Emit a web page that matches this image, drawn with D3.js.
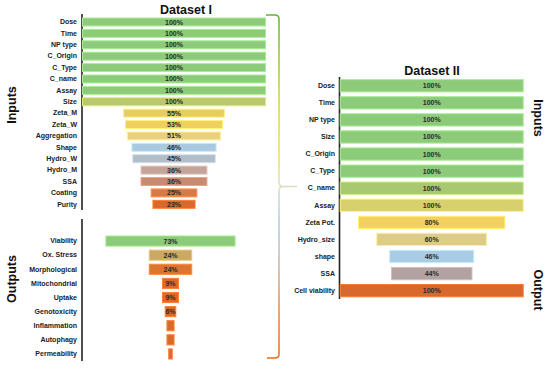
<!DOCTYPE html>
<html>
<head>
<meta charset="utf-8">
<script src="https://cdn.jsdelivr.net/npm/d3@7"></script>
<style>
  body { margin: 0; background: #fff; }
  svg { display: block; font-family: "Liberation Sans", Arial, sans-serif; }
</style>
</head>
<body>
<div id="chart"></div>
<script>
// Data
const inputs1 = ["Dose", "Time", "NP type", "C_Origin", "C_Type", "C_name", "Assay", "Size",
    "Zeta_M", "Zeta_W", "Aggregation", "Shape", "Hydro_W", "Hydro_M", "SSA", "Coating", "Purity"];
const inputs1Values = [100, 100, 100, 100, 100, 100, 100, 100, 55, 53, 51, 46, 45, 36, 36, 25, 23];

const outputs1 = ["Viability", "Ox. Stress", "Morphological", "Mitochondrial", "Uptake",
    "Genotoxicity", "Inflammation", "Autophagy", "Permeability"];
const outputs1Values = [73, 24, 24, 9, 9, 6, 4, 4, 2];
const outputs1Labels = ["73%", "24%", "24%", "9%", "9%", "6%", "", "", ""];

const inputs2 = ["Dose", "Time", "NP type", "Size", "C_Origin", "C_Type", "C_name", "Assay",
    "Zeta Pot.", "Hydro_size", "shape", "SSA", "Cell viability"];
const inputs2Values = [100, 100, 100, 100, 100, 100, 100, 100, 80, 60, 46, 44, 100];

// Colours
const inputs1Colors = ["#8dcb7b", "#8dcb7b", "#8dcb7b", "#8dcb7b", "#8dcb7b", "#8dcb7b", "#8dcb7b",
    "#b9c96c", "#e6cd62", "#efcf5f", "#e9d07f", "#a9c9e0", "#b1bdc9", "#c2a49a", "#c98a72",
    "#d97a42", "#d8692a"];
const outputs1Colors = ["#8dcb7b", "#c9a963", "#dc7532", "#d86b2c", "#d86b2c", "#d86b2c",
    "#d86b2c", "#d86b2c", "#d86b2c"];
const inputs2Colors = ["#8dcb7b", "#8dcb7b", "#8dcb7b", "#8dcb7b", "#8dcb7b", "#8dcb7b",
    "#a9c872", "#d8d06c", "#f4d060", "#dccb8a", "#a8cce4", "#b2a3a2", "#d8692a"];

const width = 550;
const height = 369;

const svg = d3.select("#chart")
    .append("svg")
    .attr("width", width)
    .attr("height", height);

// Gradient for the bracket
const grad = svg.append("defs").append("linearGradient")
    .attr("id", "bracketGrad")
    .attr("gradientUnits", "userSpaceOnUse")
    .attr("x1", 0).attr("y1", 14)
    .attr("x2", 0).attr("y2", 360);
[[0, "#5cb33a"], [0.25, "#c8d650"], [0.4, "#f2d867"], [0.5, "#d9e0c0"],
    [0.6, "#a9cfe4"], [0.72, "#c8b6ae"], [0.85, "#e58a48"], [1, "#e66a1c"]]
    .forEach(([o, c]) => grad.append("stop").attr("offset", o).attr("stop-color", c));

// Draws one funnel block
function drawBlock(opts) {
    const y = d3.scaleBand()
        .domain(opts.categories)
        .range(opts.yRange)
        .paddingInner(opts.padding)
        .paddingOuter(opts.padding / 2);

    const w = d3.scaleLinear().domain([0, 100]).range([0, opts.fullWidth]);

    const g = svg.append("g");

    const axis = d3.axisLeft(y).tickSize(0).tickSizeOuter(0).tickPadding(opts.tickPad);
    const ag = g.append("g")
        .attr("transform", `translate(${opts.axisX},0)`)
        .call(axis);
    ag.select(".domain")
        .attr("d", `M0,${opts.lineY[0]}V${opts.lineY[1]}`)
        .attr("stroke", "#222")
        .attr("stroke-width", 1.6);
    ag.selectAll(".tick text")
        .attr("font-size", opts.fontSize)
        .attr("font-weight", "bold")
        .attr("fill", "#222")
        .attr("font-family", "'Liberation Sans', Arial, sans-serif");

    const rows = g.selectAll("g.row")
        .data(opts.categories.map((c, i) => ({
            cat: c,
            value: opts.values[i],
            color: opts.colors[i],
            label: opts.labels ? opts.labels[i] : opts.values[i] + "%",
        })))
        .enter()
        .append("g")
        .attr("class", "row");

    rows.append("rect")
        .attr("x", d => opts.center - w(d.value) / 2)
        .attr("y", d => y(d.cat))
        .attr("width", d => w(d.value))
        .attr("height", y.bandwidth())
        .attr("fill", d => d.color)
        .attr("stroke", d => d3.color(d.color).brighter(0.45))
        .attr("stroke-width", 1);

    rows.append("text")
        .attr("x", opts.center)
        .attr("y", d => y(d.cat) + y.bandwidth() / 2)
        .attr("dy", "0.36em")
        .attr("text-anchor", "middle")
        .attr("font-size", opts.fontSize)
        .attr("font-weight", "bold")
        .attr("fill", "#2a2a2a")
        .text(d => d.label);
}

// Dataset I inputs
drawBlock({
    categories: inputs1, values: inputs1Values, colors: inputs1Colors,
    yRange: [16.3, 210], padding: 0.3, fullWidth: 183, center: 174,
    axisX: 82, lineY: [14, 210], tickPad: 5, fontSize: 7,
});

// Dataset I outputs
drawBlock({
    categories: outputs1, values: outputs1Values, colors: outputs1Colors, labels: outputs1Labels,
    yRange: [234, 361], padding: 0.28, fullWidth: 177, center: 170.5,
    axisX: 82, lineY: [219, 361], tickPad: 5, fontSize: 7,
});

// Dataset II
drawBlock({
    categories: inputs2, values: inputs2Values, colors: inputs2Colors,
    yRange: [77.2, 299.2], padding: 0.28, fullWidth: 183, center: 431.7,
    axisX: 339.5, lineY: [77, 299], tickPad: 4.5, fontSize: 7,
});

// Titles
svg.append("text")
    .attr("x", 186).attr("y", 14)
    .attr("text-anchor", "middle")
    .attr("font-size", 12.5).attr("font-weight", "bold").attr("fill", "#111")
    .text("Dataset I");

svg.append("text")
    .attr("x", 432).attr("y", 75)
    .attr("text-anchor", "middle")
    .attr("font-size", 12.5).attr("font-weight", "bold").attr("fill", "#111")
    .text("Dataset II");

// Side labels
function sideLabel(text, x, y, angle) {
    svg.append("text")
        .attr("transform", `translate(${x},${y}) rotate(${angle})`)
        .attr("text-anchor", "middle")
        .attr("dy", "0.35em")
        .attr("font-size", 12.5)
        .attr("font-weight", "bold")
        .attr("fill", "#111")
        .text(text);
}
sideLabel("Inputs", 12, 105, -90);
sideLabel("Outputs", 12, 279, -90);
sideLabel("Inputs", 538, 118, 90);
sideLabel("Output", 538, 290, 90);

// Bracket
svg.append("path")
    .attr("d", "M266,15 H275 Q279,15 279,19 V182 Q279,186.5 283,186.5 H297"
        + " M283,186.5 Q279,186.5 279,191 V354 Q279,358 275,358 H267")
    .attr("fill", "none")
    .attr("stroke", "url(#bracketGrad)")
    .attr("stroke-width", 1.5);
</script>
</body>
</html>
